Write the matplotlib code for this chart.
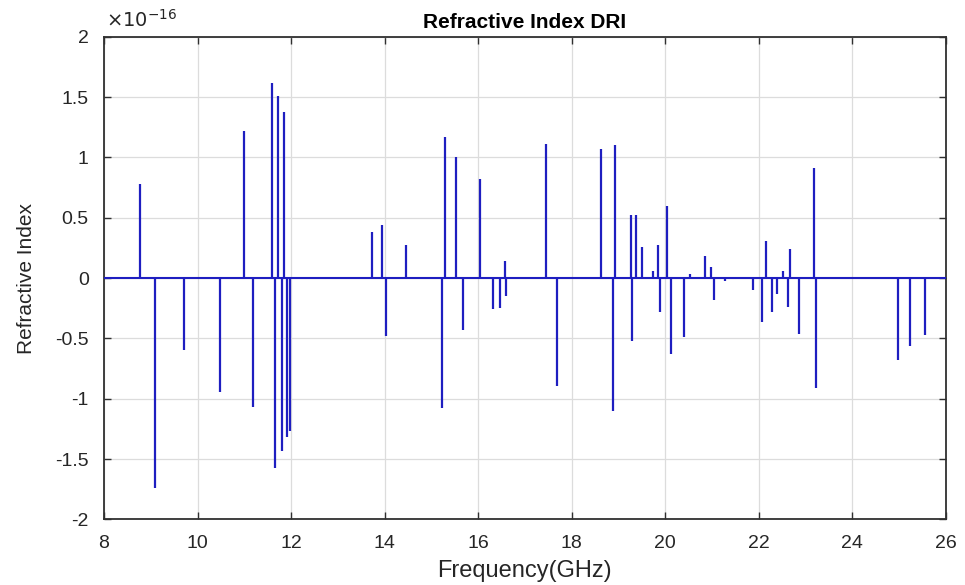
import matplotlib.pyplot as plt
import numpy as np

# resonance frequencies (GHz) and refractive index peaks (units of 1e-16)
freq_ghz = [8.78, 9.10, 9.72, 10.49, 11.00, 11.18, 11.60, 11.66, 11.72, 11.81,
            11.86, 11.92, 11.98, 13.73, 13.95, 14.03, 14.47, 15.23, 15.30, 15.52,
            15.68, 16.04, 16.32, 16.48, 16.57, 16.59, 17.46, 17.68, 18.64, 18.89,
            18.94, 19.28, 19.30, 19.37, 19.51, 19.75, 19.86, 19.90, 20.05, 20.13,
            20.40, 20.53, 20.85, 20.99, 21.04, 21.29, 21.89, 22.07, 22.17, 22.28,
            22.39, 22.52, 22.63, 22.67, 22.86, 23.19, 23.24, 24.99, 25.23, 25.57]
dri = [0.78, -1.74, -0.60, -0.94, 1.22, -1.07, 1.62, -1.57, 1.51, -1.43,
       1.38, -1.32, -1.27, 0.38, 0.44, -0.48, 0.27, -1.08, 1.17, 1.00,
       -0.43, 0.82, -0.26, -0.25, 0.14, -0.15, 1.11, -0.89, 1.07, -1.10,
       1.10, 0.52, -0.52, 0.52, 0.26, 0.06, 0.27, -0.28, 0.60, -0.63,
       -0.49, 0.03, 0.18, 0.09, -0.18, -0.025, -0.10, -0.36, 0.31, -0.28,
       -0.13, 0.06, -0.24, 0.24, -0.46, 0.91, -0.91, -0.68, -0.56, -0.47]
exponent = -16

x_ticks = np.arange(8, 27, 2)
y_ticks = [-2, -1.5, -1, -0.5, 0, 0.5, 1, 1.5, 2]

plt.rcParams['font.family'] = ['Liberation Sans', 'DejaVu Sans']

fig = plt.figure(figsize=(9.65, 5.85), dpi=100)
ax = fig.add_axes([0.1078, 0.112, 0.8720, 0.8253])

line_color = '#1e1ec0'
ax.plot([8, 26], [0, 0], color=line_color, lw=1.5, zorder=3)
ax.vlines(freq_ghz, 0, dri, color=line_color, lw=1.6, zorder=3)

ax.set_xlim(8, 26)
ax.set_ylim(-2, 2)
ax.set_xticks(x_ticks)
ax.set_yticks(y_ticks)
ax.set_yticklabels(['%g' % v for v in y_ticks])
ax.grid(True, color='#dcdcdc', lw=0.9)
ax.set_axisbelow(True)

for s in ax.spines.values():
    s.set_color('#303030')
    s.set_linewidth(1.3)
ax.tick_params(direction='in', length=5, width=1, color='#303030',
               top=True, right=True, labelsize=14, labelcolor='#262626')
ax.tick_params(axis='x', pad=11)
ax.tick_params(axis='y', pad=11)

ax.set_title('Refractive Index DRI', fontsize=15, fontweight='bold', pad=6)
ax.set_xlabel('Frequency(GHz)', fontsize=17, color='#262626', labelpad=6)
ax.set_ylabel('Refractive Index', fontsize=15, color='#262626', labelpad=14)
ax.text(0.002, 1.012, r'$\times10^{%d}$' % exponent, transform=ax.transAxes,
        fontsize=14, color='#262626', ha='left', va='bottom')

fig.savefig('out.png', dpi=100)
